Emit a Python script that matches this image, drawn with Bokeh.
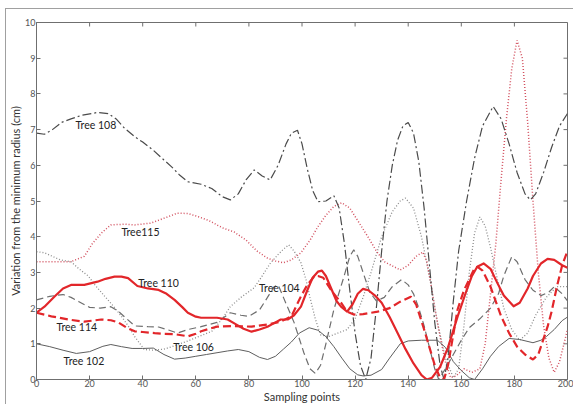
import math
from bokeh.plotting import figure
from bokeh.models import Range1d, FixedTicker, ColumnDataSource
from bokeh.core.properties import value
from bokeh.embed import file_html
from bokeh.resources import INLINE

# ---------------- data ----------------
x102 = [0,5,10,15,20,25,28,32,36,40,44,48,52,56,60,64,68,72,76,80,84,87,90,93,96,99,102.7,106,109,112,115,118,121,123,126,130,133,137,140,145,151,154,157,160,163,165,168,171,174,178,182,187,190,192,195,198,200]
y102 = [1.0,0.92,0.82,0.73,0.78,0.93,0.98,0.92,0.87,0.87,0.88,0.7,0.57,0.6,0.65,0.7,0.75,0.8,0.84,0.78,0.62,0.56,0.65,0.85,1.05,1.3,1.45,1.38,1.2,0.92,0.6,0.3,0.13,0.1,0.12,0.28,0.6,1.0,1.08,1.1,1.1,0.9,0.5,0.25,0.05,0.0,0.3,0.65,0.92,1.15,1.12,1.03,1.1,1.2,1.4,1.65,1.75]

x104 = [0,5,10,13,16,20,24,28,31,34,37,42,46,50,53,57,62,68,73,77,80,84,87,89.5,91,93,97,100.7,103,105,107,109,112,115.8,118,119.5,121,123,125.5,128,131,134,137.5,140,142,144,146,148,150,151.5,154,157,160,163,167,171,174,176,179,181,184,187,190,193,195,198,200]
y104 = [2.23,2.33,2.38,2.3,2.18,2.02,2.0,2.04,1.9,1.7,1.5,1.48,1.47,1.38,1.3,1.4,1.48,1.6,1.87,1.8,1.77,1.95,2.3,2.6,2.65,2.3,1.6,0.75,0.3,0.17,0.4,1.0,1.96,2.88,3.45,3.63,3.45,3.0,2.45,2.2,2.3,2.6,2.8,2.65,2.4,2.0,1.5,0.9,0.3,0.0,0.3,0.7,1.1,1.45,1.7,2.0,2.4,2.9,3.44,3.3,2.8,2.5,2.35,2.45,2.6,2.4,2.2]

x106 = [0,3,6,9,13,16,19.5,22,25.7,29,32,35,37,40.6,44,48,51,56,61,66,70,73,77,82,85,88,91,93,95,97,99.6,101.5,103,105,107,110,113.5,117,120,123,126,130,134,137,139,142,145,148.5,151,154,157,159,161,163,165,167,169,171,173,176,179,182,185,188,192,196,200]
y106 = [3.58,3.55,3.45,3.35,3.3,3.1,2.9,2.65,2.33,2.05,1.77,1.45,1.2,0.84,0.82,0.85,0.92,1.05,1.2,1.35,1.7,2.04,2.3,2.57,2.9,3.25,3.5,3.65,3.77,3.6,3.27,2.8,2.3,1.7,1.25,1.2,1.3,1.4,1.7,2.3,3.0,4.0,4.7,5.0,5.08,4.8,4.0,2.7,1.6,0.6,0.05,0.3,1.5,3.0,4.1,4.55,4.3,3.7,3.0,2.0,1.4,1.1,1.3,1.8,2.3,2.6,2.6]

x108 = [0,3,6,9.4,13,17,23,27,30,33,37,40,44,48,51,54,57,62,66,70,73,76,79,82,85,88,91,94,96,98.3,100,102,104,106,109,112,114,116,118,120,122,124,126,128,130,132,134,136,138,140,142,144,146,148,150,152,153.5,155,157,159,162,165,168,172,175,178,181,184,186,188,191,194,197,200]
y108 = [6.9,6.87,7.0,7.2,7.3,7.4,7.48,7.45,7.3,7.05,6.8,6.65,6.42,6.15,5.95,5.72,5.54,5.47,5.35,5.12,5.03,5.2,5.6,5.87,5.7,5.59,6.0,6.6,6.9,6.98,6.6,5.9,5.3,4.98,5.0,5.15,4.8,3.8,2.5,1.3,0.4,0.0,0.6,2.0,3.6,5.0,6.0,6.7,7.1,7.2,6.9,6.1,4.8,3.2,1.6,0.4,0.0,0.6,2.2,3.6,5.0,6.2,7.1,7.65,7.3,6.6,5.8,5.2,5.03,5.2,5.8,6.5,7.1,7.45]

x110 = [0,3,6.9,10,13,18,23,26,29.4,32,34.5,38,42,46,49,52,55,57,60,62,68,72,75,78,81,84,87,90,92,94.6,97,99.6,102,104,106,107.5,109,111,113,114.7,117,119,121,123,125,127.5,130,133,136,139,142,145,147,149,152,155,158.6,162,164,166,168.4,171,173.6,176,179.7,182,185,187,190,192.5,195,198,200]
y110 = [1.87,2.04,2.33,2.55,2.65,2.65,2.74,2.82,2.88,2.88,2.84,2.62,2.55,2.51,2.4,2.23,2.02,1.87,1.76,1.73,1.73,1.68,1.55,1.42,1.34,1.4,1.48,1.6,1.68,1.68,1.8,2.04,2.5,2.85,3.02,3.05,2.9,2.55,2.2,2.04,1.9,2.1,2.4,2.54,2.5,2.35,2.15,1.75,1.3,0.85,0.45,0.12,0.0,0.05,0.35,0.9,1.76,2.5,2.9,3.16,3.25,3.1,2.7,2.35,2.05,2.15,2.55,2.9,3.25,3.38,3.35,3.2,3.13]

x114 = [0,5.6,12,18,24.4,28,30.8,34,37,40,44.5,48,52,57,60,62,65,68,74,81,87,92,96,99.6,102,104.5,106,108,111,114.7,117,119.5,123,128.5,133,137,141,143,146,148,150,152,153.5,155,158.6,161,164.7,166,168,171,175,178,181,184,187,189,192.5,194,196,198,200]
y114 = [1.87,1.77,1.68,1.62,1.68,1.66,1.6,1.45,1.35,1.33,1.3,1.28,1.27,1.21,1.28,1.35,1.42,1.48,1.5,1.48,1.54,1.62,1.77,2.33,2.65,2.88,2.9,2.85,2.5,2.15,1.9,1.82,1.83,1.9,2.0,2.18,2.32,2.1,1.4,0.9,0.4,0.05,0.0,0.4,1.96,2.5,3.07,3.16,3.05,2.6,1.77,1.3,0.92,0.7,0.56,0.7,1.48,1.9,2.6,3.2,3.6]

x115 = [0,5.6,13,18,21,24.4,28,33,37,43,49.6,53,57,61,65,70,74.5,79,83,87,90,93,96,99.6,103,106,109,112,115,118,121,124.8,128,131,134.6,137,140,143,145.5,147,148.5,150,152,154,156,158,161,164,167,169,171,173,175,177,179,181,183,185,187,189,191,193,195,197,199,200]
y115 = [3.3,3.3,3.3,3.45,3.8,4.1,4.33,4.35,4.33,4.38,4.56,4.66,4.65,4.56,4.45,4.25,4.13,3.9,3.6,3.4,3.32,3.27,3.35,3.55,3.9,4.28,4.6,4.85,4.95,4.8,4.45,4.0,3.6,3.3,3.16,3.07,3.2,3.45,3.57,3.3,2.7,2.0,1.2,0.5,0.05,0.1,0.3,0.2,0.3,1.0,2.4,3.8,5.6,7.3,8.7,9.5,9.0,7.2,5.0,3.0,1.5,0.6,0.2,0.5,1.1,1.4]

label_text = ["Tree 108", "Tree115", "Tree 110", "Tree 114", "Tree 102", "Tree 106", "Tree 104"]
label_x = [14.7, 32, 38.3, 7.5, 10.2, 51.5, 83.8]
label_y = [7.12, 4.13, 2.71, 1.48, 0.53, 0.92, 2.57]

x_ticks = [0, 20, 40, 60, 80, 100, 120, 140, 160, 180, 200]
y_ticks = [0, 1, 2, 3, 4, 5, 6, 7, 8, 9, 10]
x_min, x_max = 0, 200
y_min, y_max = 0, 10

# ---------------- figure ----------------
p = figure(width=568, height=396, output_backend="svg", toolbar_location=None,
           x_range=Range1d(x_min, x_max), y_range=Range1d(y_min, y_max),
           min_border_left=29, min_border_right=7, min_border_top=13, min_border_bottom=25)
p.margin = (8, 0, 0, 5)
p.styles = {"border-left": "1px solid #a0a0a0", "border-top": "1px solid #a0a0a0"}
p.background_fill_color = "white"
p.border_fill_color = "white"
p.outline_line_color = "#6f6f6f"
p.outline_line_width = 1
p.xgrid.visible = False
p.ygrid.visible = False

font = "Lato"
for ax in (p.xaxis[0], p.yaxis[0]):
    ax.major_tick_in = 4
    ax.major_tick_out = 0
    ax.minor_tick_line_color = None
    ax.axis_line_color = "#6f6f6f"
    ax.major_tick_line_color = "#6f6f6f"
    ax.major_label_text_font = font
    ax.major_label_text_font_size = "9px"
    ax.major_label_text_color = "#555555"
    ax.major_label_standoff = 1
    ax.axis_label_text_font = font
    ax.axis_label_text_font_size = "11px"
    ax.axis_label_text_font_style = "normal"
    ax.axis_label_text_color = "#333333"
    ax.axis_label_standoff = 0
p.xaxis[0].major_label_standoff = 0
p.xaxis[0].ticker = FixedTicker(ticks=x_ticks)
p.yaxis[0].ticker = FixedTicker(ticks=y_ticks)
p.xaxis[0].axis_label = "Sampling points"
p.yaxis[0].axis_label = "Variation from the minimum radius (cm)"

# inward ticks on the top and right edges of the box
p.ray(x=x_ticks, y=[y_max] * len(x_ticks), length=4, length_units="screen",
      angle=-math.pi / 2, line_color="#6f6f6f", line_width=1)
p.ray(x=[x_max] * len(y_ticks), y=y_ticks, length=4, length_units="screen",
      angle=math.pi, line_color="#6f6f6f", line_width=1)

# ---------------- series ----------------
p.line(x106, y106, line_color="#8c8c8c", line_width=1.3, line_dash="1 2")
p.line(x115, y115, line_color="#d2505f", line_width=1.5, line_dash="1 2")
p.line(x108, y108, line_color="#4a4a4a", line_width=1.2, line_dash="9 3 2 3")
p.line(x104, y104, line_color="#6e6e6e", line_width=1.2, line_dash="7 4")
p.line(x102, y102, line_color="#5e5e5e", line_width=1.0)
p.line(x114, y114, line_color="#e2262a", line_width=2.2, line_dash="8 4")
p.line(x110, y110, line_color="#e2262a", line_width=2.2, line_join="round")

src = ColumnDataSource(dict(x=label_x, y=label_y, t=label_text))
p.text(x="x", y="y", text="t", source=src, text_font=value(font), text_font_size="10.5px",
       text_color="#222222", text_align="left", text_baseline="middle")

open("out.html", "w").write(file_html(p, INLINE))
